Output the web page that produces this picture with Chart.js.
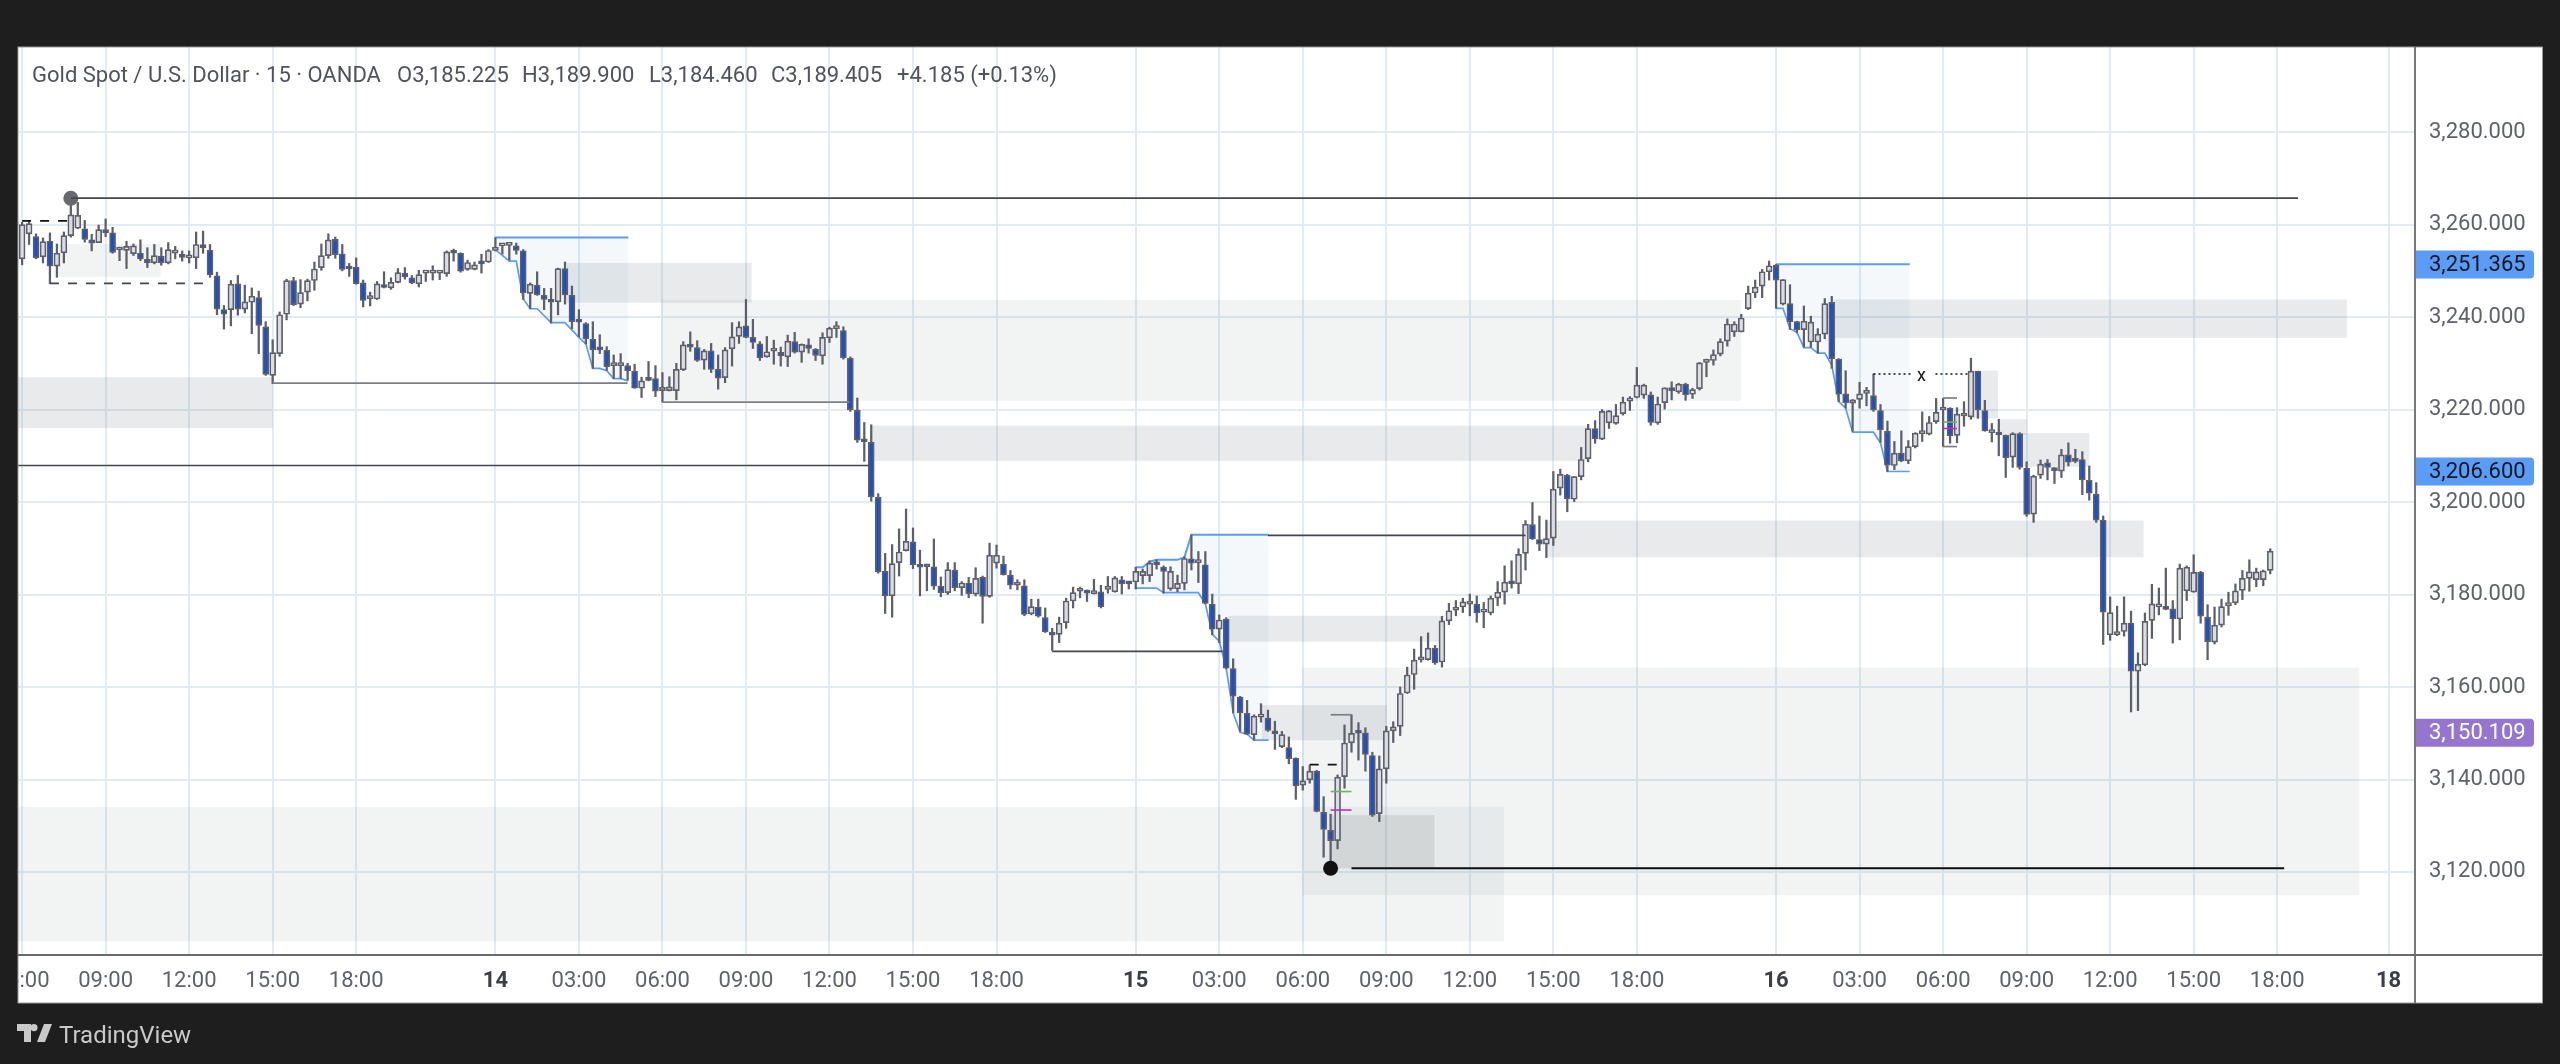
<!DOCTYPE html>
<html>
<head>
<meta charset="utf-8">
<title>Gold Spot / U.S. Dollar</title>
<script src="https://cdn.jsdelivr.net/npm/chart.js@4"></script>
<style>
html, body { margin: 0; padding: 0; background: #1e1e1e; width: 2560px; height: 1064px; overflow: hidden; }
canvas { position: absolute; left: 0; top: 0; }
.hdr { position: absolute; top: 62px; font: 22px Roboto, sans-serif; color: #50535e; white-space: nowrap; line-height: 26px; }
#brand { position: absolute; left: 59px; top: 1020px; font: 24px Roboto, sans-serif; color: #c9c9c9; line-height: 30px; }
#logo { position: absolute; left: 17px; top: 1024px; }
</style>
</head>
<body>
<canvas id="goldChart" width="2560" height="1064"></canvas>
<span class="hdr" style="left:32px">Gold Spot / U.S. Dollar · 15 · OANDA</span>
<span class="hdr" style="left:397px">O3,185.225</span>
<span class="hdr" style="left:522px">H3,189.900</span>
<span class="hdr" style="left:649px">L3,184.460</span>
<span class="hdr" style="left:771px">C3,189.405</span>
<span class="hdr" style="left:897px">+4.185 (+0.13%)</span>
<svg id="logo" width="35" height="18" viewBox="0 0 35 18"><path fill="#c9c9c9" d="M0 0h14v18H7V7H0zM17 0a3.6 3.6 0 1 1 0 7.2 3.6 3.6 0 0 1 0-7.2zM27 0h8l-7 18h-8z"/></svg>
<span id="brand">TradingView</span>
<script>
// 15 min candles, bar 0 is 06:00 on the 13th
const opens = [
  3252.6,3258.0,3257.4,3253.0,3256.4,3251.0,3253.9,3257.6,3259.2,3259.1,3256.7,3256.1,3258.9,3258.2,3254.5,3254.4,3253.7,3253.8,3252.5,3251.7,3253.2,3251.7,3253.8,3253.6,3252.8,3252.8,3255.7,3254.5,3248.9,3241.6,3241.6,3247.2,3241.7,3243.2,3244.2,3237.9,3227.4,3232.1,3240.6,3247.9,3242.8,3245.4,3247.9,3250.7,3253.3,3256.8,
  3253.7,3250.9,3250.8,3247.4,3244.0,3243.9,3246.9,3246.3,3247.5,3249.5,3248.5,3247.2,3249.5,3249.5,3249.5,3249.4,3254.0,3253.8,3250.3,3250.3,3251.8,3251.9,3254.4,3255.4,3255.5,3255.4,3254.3,3245.1,3246.9,3244.7,3243.6,3243.3,3250.5,3244.7,3239.0,3238.6,3235.2,3233.1,3232.8,3229.5,3229.5,3229.5,3228.3,3224.6,3226.7,3226.7,
  3224.1,3224.1,3224.1,3228.6,3233.9,3233.4,3230.7,3232.7,3228.7,3226.9,3233.1,3235.8,3238.1,3235.6,3234.2,3231.4,3232.6,3232.4,3231.4,3234.7,3232.4,3234.0,3233.0,3231.6,3235.5,3237.5,3237.1,3231.1,3219.9,3213.4,3212.9,3201.0,3185.0,3179.7,3186.9,3189.5,3191.4,3186.3,3186.1,3186.0,3181.8,3180.4,3185.3,3181.5,3182.5,3180.1,
  3183.7,3179.6,3186.8,3186.6,3184.2,3182.0,3181.9,3175.8,3177.3,3175.0,3171.9,3171.4,3173.9,3178.6,3180.7,3180.6,3180.2,3180.6,3181.1,3180.6,3183.2,3182.6,3182.7,3184.1,3184.1,3186.7,3185.9,3181.2,3181.2,3182.4,3187.7,3186.9,3186.4,3177.9,3172.5,3174.7,3164.0,3157.8,3154.3,3149.7,3153.5,3153.3,3150.4,3147.1,3146.9,3144.6,
  3138.8,3139.9,3141.8,3132.9,3129.0,3126.8,3140.6,3147.9,3150.2,3150.1,3145.2,3132.6,3142.3,3150.5,3151.5,3158.7,3162.7,3165.9,3165.9,3168.4,3165.4,3174.3,3176.6,3177.3,3177.9,3177.9,3176.2,3176.0,3179.2,3180.5,3182.6,3182.3,3188.9,3195.1,3191.9,3190.9,3192.2,3203.0,3205.8,3200.6,3205.5,3209.4,3215.9,3213.6,3217.1,3217.0,
  3219.1,3221.8,3222.6,3223.1,3223.2,3217.1,3221.5,3224.7,3223.8,3225.5,3223.3,3224.5,3230.2,3230.6,3232.0,3234.8,3236.8,3236.8,3241.8,3245.2,3246.7,3249.8,3251.2,3242.8,3242.9,3239.0,3237.3,3234.6,3234.6,3236.3,3243.2,3230.9,3223.4,3221.4,3222.2,3223.5,3223.0,3219.8,3215.3,3207.9,3210.6,3208.9,3212.0,3214.8,3214.7,3217.4,3219.9,
  3220.3,3214.4,3218.6,3218.4,3228.3,3219.8,3215.0,3214.8,3214.4,3209.7,3214.8,3207.3,3197.4,3205.8,3208.5,3207.3,3206.7,3210.2,3209.0,3209.2,3204.7,3201.7,3196.1,3171.3,3171.3,3172.0,3173.8,3163.4,3164.8,3174.4,3177.3,3177.4,3176.9,3174.7,3180.8,3180.5,3184.8,3175.1,3169.7,3173.4,3177.6,3178.2,3180.9,3183.5,3183.2,3183.2,3185.225
];
const highs = [
  3260.5,3260.7,3258.0,3257.1,3258.2,3255.8,3258.4,3265.2,3264.8,3260.9,3257.9,3259.9,3261.2,3259.4,3255.1,3256.4,3255.8,3256.7,3255.0,3255.7,3255.0,3256.1,3255.3,3254.3,3254.3,3258.4,3258.6,3255.7,3249.7,3242.5,3247.9,3249.0,3246.9,3246.3,3245.6,3239.0,3235.1,3241.1,3248.2,3248.6,3248.1,3248.2,3251.9,3255.8,3258.0,3257.3,
  3255.7,3251.6,3252.8,3248.0,3245.4,3247.7,3249.8,3248.5,3250.5,3250.7,3249.0,3250.1,3249.6,3251.1,3249.8,3254.3,3254.7,3253.9,3252.3,3251.9,3253.6,3254.6,3257.2,3255.6,3255.7,3256.0,3254.6,3247.4,3249.8,3246.2,3246.2,3250.6,3251.9,3246.7,3241.6,3238.8,3239.0,3236.2,3233.6,3231.8,3232.1,3230.0,3229.8,3227.0,3230.4,3229.5,
  3228.0,3227.1,3230.0,3234.7,3236.8,3234.9,3233.0,3234.3,3231.8,3233.4,3238.8,3239.0,3243.8,3239.5,3234.7,3235.8,3235.0,3233.5,3236.1,3236.7,3234.2,3235.3,3233.2,3236.6,3237.8,3239.0,3237.9,3231.4,3222.5,3217.2,3216.7,3201.8,3188.9,3190.8,3194.2,3198.5,3194.4,3189.6,3186.1,3192.0,3183.8,3186.9,3186.9,3182.8,3183.7,3185.8,
  3184.0,3191.1,3190.7,3188.3,3185.2,3183.2,3183.2,3179.0,3179.0,3177.1,3172.7,3175.1,3179.2,3181.6,3181.6,3181.0,3183.3,3182.0,3183.9,3183.9,3183.9,3182.6,3185.9,3185.5,3187.3,3187.5,3186.2,3186.0,3184.2,3188.2,3192.9,3189.3,3189.3,3180.1,3175.6,3175.0,3166.1,3158.0,3157.1,3154.0,3156.4,3155.0,3152.6,3150.4,3149.2,3144.7,
  3142.8,3143.1,3142.0,3136.3,3132.5,3141.0,3151.8,3154.0,3152.3,3151.2,3145.9,3145.1,3151.5,3152.5,3160.0,3164.3,3168.2,3170.9,3171.7,3169.0,3175.3,3178.1,3178.7,3179.2,3180.1,3179.7,3178.3,3179.7,3182.8,3186.2,3187.3,3189.9,3196.0,3199.9,3197.0,3196.1,3206.6,3207.1,3206.0,3205.5,3211.8,3216.8,3217.6,3220.0,3219.8,3221.1,
  3222.7,3222.8,3229.1,3225.5,3223.8,3222.7,3224.7,3226.0,3225.7,3225.7,3224.6,3230.2,3230.9,3232.9,3235.3,3239.6,3239.0,3240.6,3246.7,3248.0,3250.3,3252.1,3251.4,3248.1,3247.0,3239.1,3242.4,3240.2,3237.5,3244.0,3244.5,3231.0,3228.4,3222.2,3225.9,3224.8,3227.7,3221.1,3217.5,3213.1,3215.4,3213.3,3215.0,3219.5,3218.5,3222.4,3222.4,
  3220.4,3220.4,3221.7,3231.1,3228.3,3222.0,3217.0,3217.9,3214.5,3215.0,3215.0,3208.7,3205.8,3209.1,3209.2,3207.4,3211.4,3212.8,3211.4,3210.9,3207.8,3204.2,3197.0,3179.5,3177.5,3179.5,3176.4,3167.4,3176.0,3182.2,3181.4,3185.7,3178.7,3186.6,3186.2,3188.6,3185.0,3177.8,3177.3,3179.0,3180.5,3182.3,3185.2,3187.5,3185.7,3185.3,3189.9
];
const lows = [
  3251.3,3255.7,3252.6,3251.7,3247.2,3248.6,3251.7,3257.3,3259.1,3256.2,3254.3,3256.1,3257.4,3253.8,3252.2,3250.5,3253.3,3252.2,3250.7,3251.5,3251.2,3251.5,3252.6,3252.1,3251.7,3250.5,3253.8,3248.6,3240.5,3237.4,3238.1,3240.4,3240.9,3236.4,3232.1,3227.4,3225.6,3231.5,3239.4,3242.5,3242.0,3243.5,3245.8,3250.1,3252.7,3252.7,
  3250.0,3248.8,3247.1,3242.2,3242.4,3243.8,3246.3,3246.0,3247.4,3248.2,3247.2,3246.5,3247.7,3248.0,3248.1,3248.8,3252.1,3249.7,3250.1,3250.2,3249.5,3251.8,3254.3,3253.6,3252.3,3253.6,3243.8,3241.8,3244.7,3241.6,3238.7,3240.5,3242.8,3237.5,3235.7,3234.2,3228.9,3232.1,3228.5,3226.7,3226.7,3226.4,3224.6,3222.6,3226.2,3222.8,
  3221.7,3224.0,3222.1,3228.4,3232.6,3230.4,3228.7,3228.0,3224.4,3225.8,3229.4,3234.3,3235.5,3233.2,3230.6,3231.3,3229.8,3229.4,3229.3,3232.2,3230.2,3232.2,3230.6,3229.8,3234.5,3235.6,3230.9,3219.6,3212.9,3208.8,3200.2,3184.6,3175.9,3175.1,3184.0,3189.4,3185.6,3179.7,3180.8,3181.1,3179.5,3180.0,3180.8,3179.8,3179.3,3179.7,
  3173.8,3179.4,3185.7,3184.2,3181.2,3181.0,3175.4,3175.6,3175.1,3171.8,3167.9,3169.6,3172.7,3177.1,3179.3,3178.5,3180.1,3177.1,3180.3,3180.5,3180.1,3181.2,3181.2,3182.3,3182.8,3185.5,3180.3,3180.9,3180.6,3181.0,3185.3,3182.6,3178.0,3171.3,3169.6,3163.9,3154.4,3150.4,3149.7,3148.5,3152.4,3150.4,3146.5,3146.9,3143.4,3135.7,
  3137.7,3139.2,3133.0,3123.2,3120.8,3125.0,3138.1,3145.9,3144.2,3141.8,3132.0,3130.9,3139.2,3148.0,3149.5,3158.6,3159.5,3165.4,3165.8,3164.9,3164.3,3173.5,3175.4,3176.1,3175.4,3174.0,3172.8,3175.6,3177.6,3177.9,3181.4,3180.2,3185.3,3191.9,3189.5,3188.0,3190.6,3201.5,3197.9,3200.1,3204.8,3208.7,3212.7,3213.5,3215.9,3216.8,
  3218.8,3219.8,3222.5,3222.4,3216.6,3216.8,3220.1,3222.1,3223.5,3222.0,3222.4,3224.2,3227.1,3229.6,3231.6,3233.7,3235.8,3236.8,3241.6,3244.2,3244.2,3248.0,3241.9,3242.6,3237.3,3236.6,3233.5,3233.5,3232.2,3235.3,3228.9,3221.7,3220.3,3215.3,3220.3,3220.8,3219.6,3212.9,3206.6,3207.0,3208.7,3208.3,3211.7,3213.1,3214.5,3217.0,3212.0,
  3212.7,3212.8,3216.4,3217.9,3218.1,3215.3,3213.0,3210.0,3205.3,3207.5,3207.1,3196.9,3195.6,3205.1,3204.8,3204.0,3205.3,3207.8,3208.5,3201.6,3200.4,3195.6,3169.2,3170.1,3171.1,3171.0,3154.6,3154.9,3164.6,3170.5,3175.6,3176.7,3169.5,3170.2,3178.7,3180.5,3173.8,3165.9,3169.3,3173.0,3175.5,3177.8,3178.9,3180.7,3181.7,3181.9,3184.46
];
const closes = [
  3260.0,3260.2,3252.8,3256.3,3251.0,3253.8,3257.6,3262.1,3262.0,3256.8,3256.0,3258.9,3258.2,3254.0,3254.7,3255.3,3255.4,3252.6,3251.7,3253.3,3251.7,3254.6,3254.5,3252.9,3252.9,3255.7,3255.0,3249.1,3241.7,3240.6,3247.1,3241.7,3243.3,3244.5,3238.2,3227.6,3232.3,3240.5,3247.9,3242.7,3245.3,3247.9,3250.4,3253.3,3256.7,3253.5,
  3250.3,3250.4,3247.2,3243.6,3244.1,3247.2,3246.4,3247.5,3249.6,3248.7,3247.4,3249.2,3249.6,3249.6,3249.6,3254.1,3253.8,3249.9,3251.8,3251.3,3251.5,3254.4,3255.1,3255.5,3255.6,3254.4,3245.3,3247.1,3244.8,3243.8,3243.2,3250.5,3244.8,3239.0,3238.9,3235.3,3232.9,3232.9,3229.3,3229.6,3229.6,3228.4,3224.6,3226.2,3226.3,3224.0,
  3224.8,3224.9,3228.7,3234.0,3233.5,3230.6,3232.7,3228.7,3226.8,3232.9,3235.7,3237.9,3235.6,3234.5,3231.2,3232.5,3232.7,3231.6,3234.8,3232.4,3234.1,3233.2,3231.7,3235.6,3237.6,3237.6,3231.2,3220.0,3213.4,3213.0,3201.1,3184.9,3179.7,3186.7,3189.2,3191.5,3186.4,3185.9,3186.0,3181.8,3180.4,3185.4,3181.5,3182.5,3180.2,3183.5,
  3179.6,3188.5,3188.5,3184.3,3182.0,3182.1,3175.7,3177.4,3175.3,3171.9,3171.2,3173.8,3178.6,3180.4,3180.8,3180.3,3180.3,3177.4,3181.2,3183.6,3182.3,3182.3,3185.0,3185.0,3186.8,3186.4,3185.0,3185.0,3182.4,3187.8,3186.8,3187.0,3178.1,3172.5,3174.5,3164.1,3158.0,3154.4,3149.8,3153.7,3153.7,3150.6,3149.9,3149.7,3144.5,3138.6,
  3139.7,3141.8,3133.1,3129.2,3126.8,3140.5,3147.9,3150.0,3150.0,3145.4,3132.3,3142.3,3150.5,3151.4,3158.6,3162.6,3165.8,3166.1,3168.4,3165.2,3174.3,3176.5,3177.2,3178.4,3178.3,3176.0,3176.3,3179.2,3180.5,3182.7,3182.3,3188.7,3195.2,3192.0,3190.9,3192.1,3202.8,3206.0,3200.7,3205.5,3209.2,3215.9,3213.7,3219.6,3219.7,3218.7,
  3221.6,3222.5,3225.3,3225.3,3217.2,3221.2,3224.7,3224.1,3225.5,3223.2,3224.3,3230.1,3230.6,3231.9,3234.7,3238.5,3238.5,3239.8,3245.2,3246.5,3249.8,3251.1,3248.0,3248.1,3239.0,3237.2,3239.1,3238.9,3236.3,3242.9,3231.0,3223.3,3221.5,3222.1,3223.4,3223.6,3219.9,3215.6,3208.0,3210.6,3208.9,3212.0,3214.9,3214.9,3217.2,3219.4,3220.1,
  3214.3,3219.0,3218.9,3228.3,3219.9,3215.4,3215.2,3214.5,3209.6,3214.8,3207.5,3197.3,3205.6,3208.2,3207.5,3206.8,3210.2,3208.6,3208.8,3204.8,3201.9,3196.1,3176.2,3176.1,3172.0,3173.8,3163.4,3164.9,3174.2,3178.0,3178.0,3176.8,3174.7,3185.7,3185.9,3184.8,3175.3,3169.8,3173.4,3177.4,3178.2,3180.8,3183.5,3184.9,3184.9,3185.1,3189.405
];

const tickBars = [0,12,24,36,48,68,80,92,104,116,128,140,160,172,184,196,208,220,232,252,264,276,288,300,312,324,340];
const tickLabels = ['06:00','09:00','12:00','15:00','18:00','14','03:00','06:00','09:00','12:00','15:00','18:00','15','03:00','06:00','09:00','12:00','15:00','18:00','16','03:00','06:00','09:00','12:00','15:00','18:00','18'];
const priceTicks = [3120,3140,3160,3180,3200,3220,3240,3260,3280];

const badgePrices = [3251.365, 3206.6, 3150.109];
const badgeKinds = ['blue', 'blue', 'purple'];

// boxes behind the candles
const zoneFrom =   [-1,    5.2,   78.2,  91.8,  122.1, 173.3, 178.1, 183.9, -1,    188,   260.2, 219.1, 279.7, 283.9, 287];
const zoneTo =     [36,    19.9,  104.8, 247,   224.8, 204.2, 196.1, 335.8, 212.9, 202.9, 334,   304.8, 283.9, 288,   297];
const zoneTop =    [3227,  3255.8,3251.7,3243.7,3216.5,3175.4,3156.1,3164.2,3134.1,3132.3,3243.8,3196,  3228.4,3217.9,3214.9];
const zoneBottom = [3216,  3248.7,3243.1,3221.9,3208.9,3169.8,3148.5,3115,  3105,  3120.8,3235.5,3188.1,3218.1,3214.5,3207.6];
const zoneKinds =  ['dark','light','dark','light','dark','dark','dark','light','light','deep','dark','dark','dark','dark','dark'];

// blue ranges, upper and lower edge
const range1TopBars = [68, 87.1];
const range1TopPrices = [3257.2, 3257.2];
const range1LowBars = [68,70,71,72,73,74,76,78,80,81,82,83,84,85,86,87.1];
const range1LowPrices = [3254.6,3252.1,3252.1,3243.9,3241.8,3241.8,3238.8,3238.8,3235.6,3234.2,3228.9,3228.9,3228.4,3226.7,3226.7,3226.2];
const range2TopBars = [160,161,162,163,166,167,168,179.1];
const range2TopPrices = [3185.9,3185.9,3187.1,3187.5,3187.5,3188.1,3192.9,3192.9];
const range2LowBars = [160,163,164,169,170,171,172,173,174,175,176,177,179.1];
const range2LowPrices = [3181.4,3181.4,3180.4,3180.4,3178,3171.4,3169.9,3164.1,3154.4,3150.2,3149.8,3148.5,3148.5];
const range3TopBars = [252, 271.2];
const range3TopPrices = [3251.4, 3251.4];
const range3LowBars = [252,253,254,255,256,257,258,259,260,261,262,263,266,267,268,271.2];
const range3LowPrices = [3241.9,3241.9,3237.5,3236.7,3233.4,3233.4,3232.2,3232.2,3229.6,3221.7,3220.3,3215.1,3215.1,3212.8,3206.6,3206.6];

// horizontal drawings
const levelFrom =  [7,     -1,    36,    91.9,  148,   179,   191,   0,     4,     185,   188,   188,   188,   266,   274.9, 276,   276,   276,   276];
const levelTo =    [327,   121.7, 87,    118.9, 172.5, 216,   325,   7,     27.2,  190,   191,   191,   191,   271.5, 279.6, 278,   278,   278,   278];
const levelPrices =[3265.7,3207.9,3225.7,3221.6,3167.7,3192.8,3120.8,3260.8,3247.3,3143.2,3154,  3137.4,3133.4,3227.7,3227.7,3222.5,3212,  3217.3,3215.9];
const levelKinds = ['gray','gray','soft','soft','gray','gray','black','blackDash','grayDash','blackDash','soft','green','magenta','dots','dots','soft','soft','green','magenta'];

const dotBars = [7, 188];
const dotPrices = [3265.7, 3120.8];
const dotColors = ['#666a70', '#111111'];

const LEVEL_STYLE = {
    gray: { color: '#44464e', width: 1.7, dash: [] },
    soft: { color: '#7c7e85', width: 1.7, dash: [] },
    black: { color: '#0e0e0e', width: 2, dash: [] },
    blackDash: { color: '#111111', width: 1.8, dash: [9, 9] },
    grayDash: { color: '#44464e', width: 1.7, dash: [9, 9] },
    green: { color: '#6bb36b', width: 1.6, dash: [] },
    magenta: { color: '#b52fc4', width: 1.6, dash: [] },
    dots: { color: '#111111', width: 1.5, dash: [2, 3] }
};
const ZONE_FILL = { light: 'rgba(130,145,145,0.10)', dark: 'rgba(120,130,140,0.17)', deep: 'rgba(110,110,120,0.16)' };
const BADGE_STYLE = { blue: { bg: '#5b9cf6', fg: '#131722' }, purple: { bg: '#9575cd', fg: '#ffffff' } };
const FONT = 'Roboto, sans-serif';
const BLUE = '#5b9cf6';
const GRID = '#e0ebf3';

function xy(bars, prices) {
    return bars.map((b, i) => ({ x: b, y: prices[i] }));
}

function rangeSets(lowBars, lowPrices, topBars, topPrices) {
    return [
        { type: 'line', data: xy(lowBars, lowPrices), borderColor: BLUE, borderWidth: 1.7, pointRadius: 0, tension: 0, fill: '+1', backgroundColor: 'rgba(120,150,200,0.07)', order: 3 },
        { type: 'line', data: xy(topBars, topPrices), borderColor: BLUE, borderWidth: 2, pointRadius: 0, tension: 0, fill: false, order: 3 }
    ];
}

const datasets = [
    {
        label: 'body',
        data: opens.map((o, i) => ({ x: i, y: [o, closes[i]] })),
        backgroundColor: ctx => closes[ctx.dataIndex] < opens[ctx.dataIndex] ? '#1f4fc0' : '#dcdde3',
        borderColor: '#5d606b',
        borderWidth: 1.7,
        borderSkipped: false,
        barThickness: 6,
        minBarLength: 3,
        grouped: false,
        order: 1
    },
    {
        label: 'wick',
        data: lows.map((l, i) => ({ x: i, y: [l, highs[i]] })),
        backgroundColor: '#5d606b',
        borderWidth: 0,
        barThickness: 1.6,
        grouped: false,
        order: 2
    },
    ...rangeSets(range1LowBars, range1LowPrices, range1TopBars, range1TopPrices),
    ...rangeSets(range2LowBars, range2LowPrices, range2TopBars, range2TopPrices),
    ...rangeSets(range3LowBars, range3LowPrices, range3TopBars, range3TopPrices)
];

levelPrices.forEach((p, i) => {
    const st = LEVEL_STYLE[levelKinds[i]];
    datasets.push({
        type: 'line',
        data: [{ x: levelFrom[i], y: p }, { x: levelTo[i], y: p }],
        borderColor: st.color,
        borderWidth: st.width,
        borderDash: st.dash,
        pointRadius: 0,
        fill: false,
        order: 0
    });
});

dotBars.forEach((b, i) => {
    datasets.push({
        type: 'line',
        data: [{ x: b, y: dotPrices[i] }],
        showLine: false,
        pointRadius: 7.5,
        pointBackgroundColor: dotColors[i],
        pointBorderWidth: 0,
        order: 0
    });
});

const panelPlugin = {
    id: 'panel',
    beforeDraw(chart) {
        const c = chart.ctx;
        c.fillStyle = '#ffffff';
        c.fillRect(18, 47, 2524.5, 956);
    },
    beforeDatasetsDraw(chart) {
        const c = chart.ctx, x = chart.scales.x, y = chart.scales.y, a = chart.chartArea;
        c.save();
        c.beginPath();
        c.rect(a.left, a.top, a.width, a.height);
        c.clip();
        zoneFrom.forEach((from, i) => {
            const x0 = x.getPixelForValue(from), x1 = x.getPixelForValue(zoneTo[i]);
            const y0 = y.getPixelForValue(zoneTop[i]), y1 = y.getPixelForValue(zoneBottom[i]);
            c.fillStyle = ZONE_FILL[zoneKinds[i]];
            c.fillRect(x0, y0, x1 - x0, y1 - y0);
        });
        c.restore();
    },
    afterDraw(chart) {
        const c = chart.ctx, x = chart.scales.x, y = chart.scales.y, a = chart.chartArea;
        // left margin hides the clipped half of the first time label
        c.fillStyle = '#1e1e1e';
        c.fillRect(0, a.bottom, 18, 60);

        c.strokeStyle = '#9a9a9a';
        c.lineWidth = 1;
        c.strokeRect(18, 47, 2524.5, 956);
        c.strokeStyle = '#6a6a6a';
        c.lineWidth = 1.8;
        c.beginPath();
        c.moveTo(18, a.bottom);
        c.lineTo(2542.5, a.bottom);
        c.moveTo(a.right, 47);
        c.lineTo(a.right, 1003);
        c.stroke();

        c.textBaseline = 'middle';
        c.textAlign = 'center';
        c.font = '18px ' + FONT;
        c.fillStyle = '#111111';
        c.fillText('x', x.getPixelForValue(272.9), y.getPixelForValue(3227.2));

        c.textAlign = 'left';
        c.font = '22px ' + FONT;
        badgePrices.forEach((p, i) => {
            const st = BADGE_STYLE[badgeKinds[i]], py = y.getPixelForValue(p);
            c.fillStyle = st.bg;
            c.beginPath();
            c.roundRect(a.right + 1, py - 14, 118, 28, [0, 4, 4, 0]);
            c.fill();
            c.fillStyle = st.fg;
            c.fillText(p.toLocaleString('en-US', { minimumFractionDigits: 3 }), a.right + 14, py + 1);
        });
    }
};

new Chart(document.getElementById('goldChart'), {
    type: 'bar',
    data: { datasets },
    plugins: [panelPlugin],
    options: {
        responsive: false,
        devicePixelRatio: 1,
        animation: false,
        events: [],
        layout: { padding: { left: 18, top: 47, right: 17.5, bottom: 61 } },
        plugins: { legend: { display: false }, tooltip: { enabled: false } },
        scales: {
            x: {
                type: 'linear',
                offset: false,
                min: -0.589,
                max: 343.8,
                afterBuildTicks: s => { s.ticks = tickBars.map(v => ({ value: v })); },
                afterFit: s => { s.height = 48; s.paddingLeft = 0; s.paddingRight = 0; },
                grid: { offset: false, color: GRID, lineWidth: 2, drawTicks: false },
                border: { display: false },
                ticks: {
                    autoSkip: false,
                    maxRotation: 0,
                    minRotation: 0,
                    padding: 13,
                    callback: (v, i) => tickLabels[i],
                    color: ctx => /:/.test(tickLabels[ctx.index]) ? '#5f626d' : '#3c3f48',
                    font: ctx => ({ family: FONT, size: 22, weight: /:/.test(tickLabels[ctx.index]) ? 'normal' : 'bold' })
                }
            },
            y: {
                position: 'right',
                min: 3102.05,
                max: 3298.4,
                afterBuildTicks: s => { s.ticks = priceTicks.map(v => ({ value: v })); },
                afterFit: s => { s.width = 127.5; },
                grid: { color: GRID, lineWidth: 2, drawTicks: false },
                border: { display: false },
                ticks: {
                    padding: 14,
                    color: '#5f626d',
                    font: { family: FONT, size: 22 },
                    callback: v => v.toLocaleString('en-US', { minimumFractionDigits: 3 })
                }
            }
        }
    }
});
</script>
</body>
</html>
